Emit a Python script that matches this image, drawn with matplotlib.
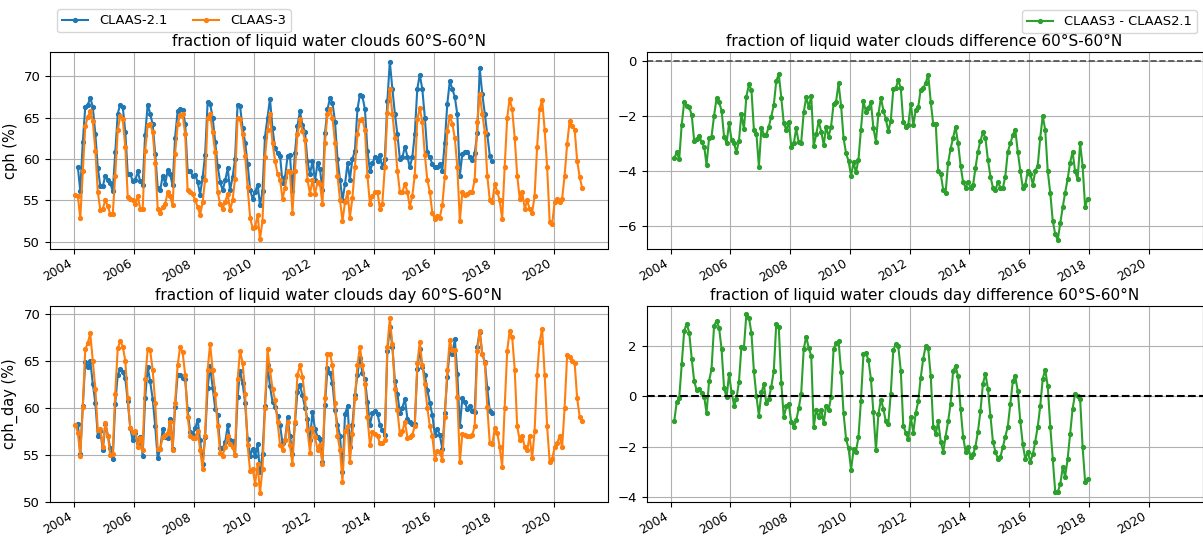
import pandas as pd
import matplotlib
matplotlib.use("Agg")
import matplotlib.pyplot as plt
import matplotlib.dates as mdates

# ---------------------------------------------------------------- data
# monthly means, CLAAS-3: Jan 2004 - Dec 2020, CLAAS-2.1: Feb 2004 - Dec 2017
cph_claas3 = [
    55.6, 55.5, 52.8, 58.5, 64.0, 65.1, 65.8, 64.6, 61.0, 56.0, 53.8, 54.0,
    55.0, 54.3, 53.3, 53.3, 58.0, 63.5, 65.2, 64.8, 61.5, 55.4, 55.2, 55.0,
    54.5, 55.5, 54.0, 54.0, 61.0, 64.1, 64.2, 63.3, 59.5, 54.0, 53.5, 54.2,
    54.6, 56.0, 55.5, 54.4, 60.6, 64.2, 65.3, 65.4, 63.0, 56.2, 56.0, 55.8,
    55.0, 54.2, 53.2, 54.8, 57.5, 65.0, 65.4, 63.3, 60.8, 56.0, 54.5, 54.0,
    54.8, 55.8, 53.8, 55.0, 57.6, 65.0, 64.9, 63.0, 60.4, 56.6, 52.9, 51.6,
    51.8, 53.2, 50.3, 52.5, 60.2, 63.5, 65.4, 62.0, 59.8, 58.2, 57.5, 55.2,
    56.5, 58.6, 58.4, 53.5, 58.5, 63.0, 64.8, 63.4, 62.3, 57.5, 55.8, 57.4,
    55.8, 57.2, 57.0, 54.5, 62.0, 65.5, 66.0, 65.0, 62.0, 58.0, 55.0, 52.5,
    54.8, 56.0, 52.9, 55.3, 59.0, 63.0, 64.7, 64.8, 63.5, 58.0, 54.5, 55.5,
    56.0, 56.0, 54.0, 54.6, 59.0, 65.6, 68.5, 65.5, 62.5, 58.6, 56.0, 56.0,
    57.0, 56.0, 54.2, 55.5, 58.0, 64.8, 66.2, 64.5, 60.5, 57.5, 56.0, 53.5,
    52.7, 53.1, 52.9, 54.4, 57.8, 63.4, 65.2, 64.3, 62.5, 59.0, 52.5, 56.0,
    55.6, 55.8, 56.0, 56.0, 57.5, 64.5, 67.9, 65.5, 63.3, 58.0, 55.0, 54.8,
    57.0, 56.0, 55.0, 52.7, 59.0, 65.0, 67.3, 66.0, 62.5, 58.0, 55.2, 56.0,
    54.0, 55.0, 53.9, 53.5, 55.5, 61.5, 66.0, 67.2, 63.5, 59.0, 52.4, 52.1,
    54.8, 55.2, 54.8, 55.2, 58.0, 61.8, 64.6, 64.0, 63.5, 59.8, 57.8, 56.5,
]
cph_claas21 = [
          59.0, 56.1, 62.1, 66.3, 66.6, 67.4, 66.3, 63.0, 58.9, 56.7, 56.7,
    58.0, 57.4, 57.1, 56.1, 60.8, 65.5, 66.6, 66.3, 63.3, 58.2, 58.2, 57.3,
    57.4, 58.5, 57.3, 56.9, 62.9, 66.6, 65.5, 64.2, 60.6, 56.5, 56.2, 58.0,
    57.0, 58.7, 58.2, 56.8, 62.6, 65.8, 66.0, 65.9, 64.3, 58.5, 58.5, 58.0,
    58.1, 57.2, 55.7, 57.8, 60.5, 66.9, 66.7, 65.0, 62.1, 59.1, 57.2, 56.2,
    57.4, 58.9, 56.2, 57.8, 60.0, 66.6, 66.4, 63.8, 62.0, 59.4, 56.3, 55.2,
    56.0, 56.9, 54.4, 56.1, 62.7, 65.0, 67.3, 63.7, 61.3, 60.7, 60.4, 57.1,
    57.8, 60.4, 60.5, 56.1, 60.7, 64.0, 65.8, 64.1, 63.3, 59.7, 58.2, 59.7,
    57.4, 59.5, 58.8, 56.2, 63.1, 66.0, 67.4, 66.8, 64.5, 60.0, 57.5, 55.0,
    57.0, 59.5, 57.5, 60.0, 61.0, 66.0, 67.8, 67.6, 66.0, 61.0, 58.5, 59.5,
    60.2, 59.8, 60.5, 59.0, 60.0, 67.0, 71.8, 68.5, 65.5, 63.0, 60.0, 60.2,
    61.5, 60.3, 59.0, 60.2, 63.0, 68.5, 70.2, 68.5, 65.0, 60.8, 60.2, 59.4,
    59.0, 59.0, 59.4, 58.6, 62.0, 66.7, 69.4, 68.5, 67.5, 65.4, 58.0, 60.6,
    60.9, 60.8, 60.3, 59.9, 60.7, 63.1, 71.0, 67.9, 65.5, 63.0, 60.4, 59.8,
]
cph_diff = [
            -3.54, -3.32, -3.57, -2.33, -1.49, -1.63, -1.67, -1.97, -2.91, -2.85, -2.72,
    -2.96, -3.12, -3.78, -2.81, -2.75, -2.00, -1.36, -1.49, -1.81, -2.75, -3.00, -2.27,
    -2.87, -3.00, -3.32, -2.91, -1.93, -2.48, -1.30, -0.86, -1.06, -2.51, -2.67, -3.84,
    -2.43, -2.69, -2.69, -2.39, -2.03, -1.61, -0.74, -0.48, -1.34, -2.27, -2.51, -2.21,
    -3.12, -3.00, -2.45, -2.96, -2.97, -1.87, -1.33, -1.67, -1.27, -3.09, -2.67, -2.19,
    -2.57, -3.06, -2.39, -2.75, -2.39, -1.57, -1.49, -0.82, -1.64, -2.81, -3.36, -3.64,
    -4.17, -3.68, -4.05, -3.60, -2.51, -1.46, -1.85, -1.70, -1.51, -2.45, -2.93, -1.93,
    -1.34, -1.82, -2.11, -2.55, -2.19, -1.04, -1.00, -0.70, -1.00, -2.23, -2.39, -2.33,
    -1.55, -2.33, -1.79, -1.67, -1.06, -1.00, -0.80, -0.50, -1.50, -2.30, -2.30, -4.00,
    -4.10, -4.70, -4.80, -3.70, -3.20, -2.80, -2.40, -3.00, -3.80, -4.40, -4.60, -4.40,
    -4.60, -4.50, -3.90, -3.30, -2.90, -2.60, -2.80, -3.60, -4.20, -4.60, -4.70, -4.40,
    -4.60, -4.60, -4.20, -3.30, -3.00, -2.70, -2.50, -3.30, -4.00, -4.60, -4.50, -4.00,
    -4.10, -4.50, -4.00, -3.80, -2.80, -2.00, -2.50, -4.00, -4.80, -5.80, -6.30, -6.50,
    -5.90, -5.30, -4.80, -4.30, -3.70, -3.30, -4.00, -4.30, -3.00, -3.80, -5.30, -5.00,
]
cph_day_claas3 = [
    58.2, 57.3, 54.9, 60.1, 66.2, 66.9, 67.9, 65.0, 62.0, 57.6, 57.7, 55.8,
    58.4, 57.0, 55.0, 55.1, 61.5, 66.3, 67.1, 66.5, 65.0, 61.0, 57.8, 57.4,
    57.5, 55.8, 56.8, 55.5, 63.0, 66.2, 66.1, 64.0, 60.5, 55.6, 55.6, 56.9,
    57.1, 57.3, 58.5, 55.5, 60.5, 64.5, 66.4, 65.9, 63.5, 59.0, 57.0, 56.8,
    56.8, 57.5, 55.5, 53.5, 57.0, 64.0, 66.8, 64.0, 61.5, 58.0, 55.2, 54.9,
    55.8, 57.0, 56.1, 55.8, 55.0, 63.0, 66.0, 64.8, 61.5, 56.0, 53.2, 53.5,
    51.9, 54.0, 50.9, 53.5, 60.0, 66.2, 64.0, 62.0, 60.8, 58.5, 56.0, 55.5,
    56.5, 58.5, 56.0, 54.0, 58.5, 63.5, 64.5, 63.3, 61.0, 57.6, 55.2, 57.8,
    56.9, 55.5, 56.0, 54.0, 61.0, 65.7, 65.7, 64.5, 60.5, 57.0, 55.5, 52.1,
    57.5, 58.0, 54.2, 57.2, 61.0, 64.5, 66.5, 64.5, 62.5, 59.0, 56.0, 57.4,
    57.2, 57.0, 56.2, 56.2, 56.5, 66.5, 69.5, 66.8, 62.0, 59.7, 57.2, 57.5,
    58.5, 56.8, 56.9, 57.1, 58.0, 64.7, 67.0, 64.5, 62.5, 60.0, 58.0, 57.0,
    54.5, 55.4, 55.3, 54.4, 59.0, 64.0, 67.2, 66.1, 66.1, 61.1, 54.2, 57.2,
    57.1, 57.0, 57.0, 57.1, 58.0, 66.0, 68.2, 65.7, 64.8, 60.1, 56.2, 56.1,
    57.8, 57.3, 55.8, 53.7, 60.0, 66.0, 68.2, 67.5, 64.0, 58.0, 56.5, 57.0,
    55.8, 55.5, 57.0, 54.6, 57.5, 63.5, 67.0, 68.4, 63.5, 58.0, 54.2, 54.5,
    55.8, 56.2, 57.0, 55.8, 60.0, 65.6, 65.4, 65.0, 64.7, 61.0, 59.0, 58.6,
]
cph_day_claas21 = [
          58.3, 55.1, 60.2, 64.9, 64.3, 65.0, 62.5, 60.5, 57.0, 57.5, 55.5,
    58.3, 57.0, 55.7, 54.5, 60.4, 63.5, 64.1, 63.8, 63.1, 60.7, 57.8, 56.5,
    57.3, 56.2, 56.9, 54.9, 61.0, 64.3, 62.8, 60.9, 58.0, 54.6, 55.6, 57.7,
    56.9, 56.8, 58.8, 55.6, 60.1, 63.5, 63.5, 63.1, 63.0, 59.8, 57.4, 57.1,
    57.8, 58.7, 56.5, 54.0, 56.9, 62.1, 64.4, 62.1, 59.9, 59.2, 55.7, 55.7,
    56.3, 58.1, 56.5, 56.4, 55.0, 61.1, 63.9, 62.6, 60.5, 56.7, 54.9, 55.6,
    54.8, 56.1, 53.1, 55.1, 60.2, 64.5, 62.3, 60.6, 60.1, 59.1, 58.1, 56.2,
    56.6, 59.0, 57.0, 55.1, 58.4, 61.7, 62.4, 61.3, 60.0, 58.8, 56.6, 59.5,
    57.7, 56.9, 56.7, 54.2, 60.3, 64.2, 63.7, 62.6, 59.7, 58.2, 57.0, 53.1,
    59.3, 60.2, 55.8, 58.2, 61.3, 63.5, 65.3, 63.7, 63.0, 60.6, 58.2, 59.4,
    59.6, 59.3, 58.2, 57.6, 57.1, 66.0, 68.6, 66.5, 62.8, 61.5, 59.4, 60.0,
    60.9, 58.8, 58.5, 58.3, 58.3, 64.1, 66.2, 64.3, 63.5, 61.9, 60.5, 59.2,
    57.1, 57.7, 57.1, 55.6, 59.4, 63.3, 66.2, 65.7, 67.3, 63.6, 58.0, 61.0,
    60.6, 59.8, 60.2, 59.6, 59.5, 66.5, 68.1, 65.7, 64.9, 62.1, 59.6, 59.4,
]
cph_day_diff = [
           -0.97, -0.24, -0.07, 1.27, 2.60, 2.89, 2.53, 1.49, 0.60, 0.24, 0.29,
    0.13, -0.03, -0.67, 0.60, 1.09, 2.80, 3.00, 2.73, 1.87, 0.33, -0.04, 0.87,
    0.16, -0.37, -0.10, 0.56, 1.96, 1.93, 3.27, 3.13, 2.51, 1.00, 0.00, -0.77,
    0.16, 0.47, -0.27, -0.10, 0.37, 1.00, 2.87, 2.76, 0.53, -0.84, -0.40, -0.29,
    -1.04, -1.20, -0.96, -0.47, 0.11, 1.87, 2.37, 1.93, 1.60, -1.23, -0.53, -0.83,
    -0.53, -1.07, -0.37, -0.56, -0.03, 1.87, 2.11, 2.20, 0.96, -0.67, -1.71, -2.07,
    -2.91, -2.11, -2.20, -1.63, -0.20, 1.67, 1.73, 1.44, 0.67, -0.64, -2.13, -0.71,
    -0.13, -0.51, -1.00, -1.09, 0.11, 1.84, 2.07, 2.00, 1.00, -1.17, -1.44, -1.71,
    -0.83, -1.44, -0.67, -0.20, 0.73, 1.50, 2.00, 1.90, 0.80, -1.20, -1.50, -1.00,
    -1.80, -2.20, -1.60, -1.00, -0.30, 1.00, 1.20, 0.80, -0.50, -1.60, -2.20, -2.00,
    -2.40, -2.30, -2.00, -1.40, -0.60, 0.50, 0.90, 0.30, -0.80, -1.80, -2.20, -2.50,
    -2.40, -2.00, -1.60, -1.20, -0.30, 0.60, 0.80, 0.20, -1.00, -1.90, -2.50, -2.20,
    -2.60, -2.30, -1.80, -1.20, -0.40, 0.70, 1.05, 0.40, -1.20, -2.50, -3.80, -3.80,
    -3.50, -2.80, -3.20, -2.50, -1.50, -0.50, 0.10, 0.00, -0.10, -2.00, -3.40, -3.30,
]

dates_claas3 = pd.date_range("2004-01-01", "2020-12-01", freq="MS") + pd.Timedelta(days=14)
dates_claas21 = pd.date_range("2004-02-01", "2017-12-01", freq="MS") + pd.Timedelta(days=14)

C21, C3, CD = "#1f77b4", "#ff7f0e", "#2ca02c"
line_kw = dict(marker=".", markersize=5.5, linewidth=1.5)

# ---------------------------------------------------------------- figure
W, H = 1203, 537
fig = plt.figure(figsize=(W / 100, H / 100), dpi=100)


def px_axes(x0, y0, x1, y1, **kw):
    return fig.add_axes([x0 / W, 1 - y1 / H, (x1 - x0) / W, (y1 - y0) / H], **kw)


ax_tl = px_axes(50, 51.7, 607.5, 249)
ax_bl = px_axes(50, 305.7, 607.5, 502, sharex=ax_tl)
ax_tr = px_axes(646.5, 51.7, 1202.5, 249, sharex=ax_tl)
ax_br = px_axes(646.5, 305.7, 1202.5, 502, sharex=ax_tl)

l21, = ax_tl.plot(dates_claas21, cph_claas21, color=C21, label="CLAAS-2.1", **line_kw)
l3, = ax_tl.plot(dates_claas3, cph_claas3, color=C3, label="CLAAS-3", **line_kw)
ax_bl.plot(dates_claas21, cph_day_claas21, color=C21, **line_kw)
ax_bl.plot(dates_claas3, cph_day_claas3, color=C3, **line_kw)
ld, = ax_tr.plot(dates_claas21, cph_diff, color=CD, label="CLAAS3 - CLAAS2.1", **line_kw)
ax_br.plot(dates_claas21, cph_day_diff, color=CD, **line_kw)

ax_tr.axhline(0, color="0.3", linestyle="--", linewidth=1.2)
ax_br.axhline(0, color="black", linestyle="--", linewidth=1.5)

title_kw = dict(fontsize=11, pad=4)
ax_tl.set_title("fraction of liquid water clouds 60°S-60°N", **title_kw)
ax_bl.set_title("fraction of liquid water clouds day 60°S-60°N", **title_kw)
ax_tr.set_title("fraction of liquid water clouds difference 60°S-60°N", **title_kw)
ax_br.set_title("fraction of liquid water clouds day difference 60°S-60°N", **title_kw)

ax_tl.set_ylabel("cph (%)", fontsize=10.5)
ax_bl.set_ylabel("cph_day (%)", fontsize=10.5)

ax_tl.set_ylim(49.1, 73.0)
ax_bl.set_ylim(49.95, 70.85)
ax_tr.set_ylim(-6.83, 0.33)
ax_br.set_ylim(-4.2, 3.6)

for ax in (ax_tl, ax_bl, ax_tr, ax_br):
    ax.grid(True)
    ax.xaxis.set_major_locator(mdates.YearLocator(2))
    ax.xaxis.set_major_formatter(mdates.DateFormatter("%Y"))
    ax.tick_params(labelsize=9.5)
    ax.tick_params(axis="x", labelbottom=True, labelsize=8.8, pad=2.5)
    for lbl in ax.get_xticklabels():
        lbl.set_rotation(30)
        lbl.set_ha("right")

fig.legend(handles=[l21, l3], loc="upper left", ncol=2, fontsize=9.4,
           bbox_to_anchor=(57 / W, 1 - 9 / H), borderaxespad=0)
fig.legend(handles=[ld], loc="upper right", fontsize=9.4,
           bbox_to_anchor=(1197 / W, 1 - 10 / H), borderaxespad=0)

fig.savefig("out.png", dpi=100, facecolor="white")
